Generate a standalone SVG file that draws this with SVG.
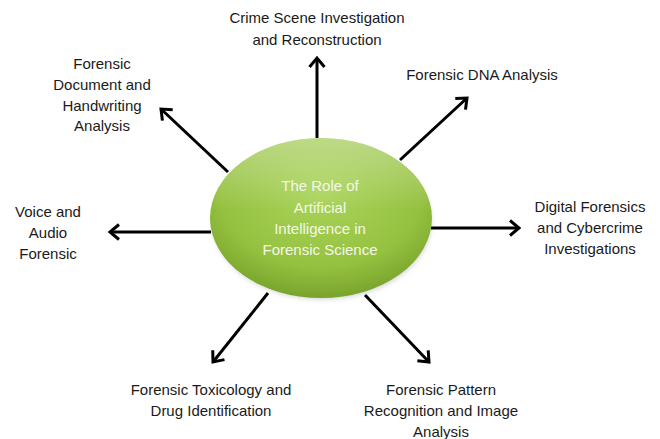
<svg xmlns="http://www.w3.org/2000/svg" width="660" height="439" viewBox="0 0 660 439">
  <style>
    .label { font-family: "Liberation Sans", Arial, sans-serif; font-size: 15px; fill: #1a1a1a; text-anchor: middle; }
    .hub { font-family: "Liberation Sans", Arial, sans-serif; font-size: 15px; fill: #f3f8e6; text-anchor: middle; }
    .conn { stroke: #000; stroke-width: 3; fill: none; marker-end: url(#head); }
  </style>
  <defs>
    <marker id="head" markerUnits="userSpaceOnUse" markerWidth="24" markerHeight="24" refX="0" refY="0" viewBox="-14 -12 18 24" orient="auto">
      <path d="M -9 -7.5 L 0 0 L -9 7.5" fill="none" stroke="#000" stroke-width="3" stroke-linejoin="miter"/>
    </marker>
    <radialGradient id="hubFill" cx="0.5" cy="0.35" r="0.65">
      <stop offset="0" stop-color="#aad45a"/>
      <stop offset="0.7" stop-color="#95c140"/>
      <stop offset="1" stop-color="#79a42c"/>
    </radialGradient>
    <linearGradient id="hubGloss" x1="0" y1="0" x2="0" y2="1">
      <stop offset="0" stop-color="#ffffff" stop-opacity="0.35"/>
      <stop offset="0.45" stop-color="#ffffff" stop-opacity="0"/>
    </linearGradient>
    <filter id="soft" x="-20%" y="-20%" width="140%" height="150%">
      <feGaussianBlur stdDeviation="3"/>
    </filter>
  </defs>

  <rect width="660" height="439" fill="#ffffff"/>

  <!-- connectors radiating from the hub -->
  <g id="connectors">
    <line class="conn" x1="317" y1="138" x2="317" y2="58"/>
    <line class="conn" x1="400" y1="160" x2="467" y2="98"/>
    <line class="conn" x1="228" y1="172" x2="161" y2="109"/>
    <line class="conn" x1="211" y1="232" x2="110" y2="232"/>
    <line class="conn" x1="431" y1="228" x2="519" y2="228"/>
    <line class="conn" x1="268" y1="293" x2="213" y2="362"/>
    <line class="conn" x1="365" y1="295" x2="429" y2="362"/>
  </g>

  <!-- central hub -->
  <g id="hub">
    <ellipse cx="322" cy="222" rx="108" ry="76" fill="#000" opacity="0.25" filter="url(#soft)"/>
    <ellipse cx="321" cy="218" rx="111" ry="80" fill="url(#hubFill)"/>
    <ellipse cx="321" cy="218" rx="111" ry="80" fill="url(#hubGloss)"/>
    <text class="hub" x="320" y="191">The Role of</text>
    <text class="hub" x="320" y="213">Artificial</text>
    <text class="hub" x="320" y="234">Intelligence in</text>
    <text class="hub" x="320" y="255">Forensic Science</text>
  </g>

  <g id="crime-scene">
    <text class="label" x="317" y="23">Crime Scene Investigation</text>
    <text class="label" x="317" y="45">and Reconstruction</text>
  </g>

  <g id="dna">
    <text class="label" x="482" y="80">Forensic DNA Analysis</text>
  </g>

  <g id="document">
    <text class="label" x="102" y="69">Forensic</text>
    <text class="label" x="102" y="90">Document and</text>
    <text class="label" x="102" y="111">Handwriting</text>
    <text class="label" x="102" y="131">Analysis</text>
  </g>

  <g id="voice">
    <text class="label" x="48" y="217">Voice and</text>
    <text class="label" x="48" y="238">Audio</text>
    <text class="label" x="48" y="259">Forensic</text>
  </g>

  <g id="digital">
    <text class="label" x="590" y="212">Digital Forensics</text>
    <text class="label" x="590" y="233">and Cybercrime</text>
    <text class="label" x="590" y="254">Investigations</text>
  </g>

  <g id="toxicology">
    <text class="label" x="211" y="395">Forensic Toxicology and</text>
    <text class="label" x="211" y="416">Drug Identification</text>
  </g>

  <g id="pattern">
    <text class="label" x="441" y="395">Forensic Pattern</text>
    <text class="label" x="441" y="416">Recognition and Image</text>
    <text class="label" x="441" y="437">Analysis</text>
  </g>
</svg>
